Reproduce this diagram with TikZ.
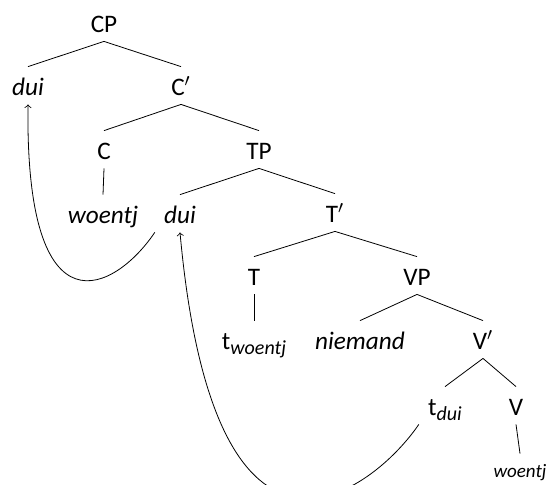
\documentclass[tikz,border=0pt]{standalone}
\usepackage{fontspec}
\setmainfont{Carlito}
\usepackage{tikz}
\newcommand{\sbs}[1]{\raisebox{-2.5pt}{\fontsize{10}{12}\selectfont\itshape #1}}

\begin{document}
\begin{tikzpicture}[x=0.5pt,y=-0.5pt,
    lbl/.style={anchor=base,inner sep=4.5pt,text height=9.5pt,text depth=0pt,font=\fontsize{12.6}{15}\selectfont},
    leaf/.style={anchor=base,inner sep=4.5pt,text height=7pt,text depth=0pt,font=\fontsize{9.5}{11}\selectfont\itshape}]
    \useasboundingbox (0,0) rectangle (549,484);
    \node [lbl] (cp) at (104,32) {CP};
    \node [lbl] (dui) at (28,95) {\textit{dui}};
    \node [lbl] (cbar) at (181,95) {C$'$};
    \node [lbl] (c) at (104,159) {C};
    \node [lbl] (tp) at (259,159) {TP};
    \node [lbl] (woentj) at (103,223) {\textit{woentj}};
    \node [lbl] (duitp) at (180,223) {\textit{dui}};
    \node [lbl] (tbar) at (335,222) {T$'$};
    \node [lbl] (t) at (254,285) {T};
    \node [lbl] (vp) at (417,285) {VP};
    \node [lbl] (twoentj) at (254,349) {t\sbs{woentj}};
    \node [lbl] (niemand) at (360,349) {\textit{niemand}};
    \node [lbl] (vbar) at (483,349) {V$'$};
    \node [lbl] (tdui) at (445,415) {t\sbs{dui}};
    \node [lbl] (v) at (516,415) {V};
    \node [leaf] (woentjv) at (520,477) {woentj};
    % tree
    \draw (cp.south)--(dui.north);
    \draw (cp.south)--(cbar.north);
    \draw (cbar.south)--(c.north);
    \draw (cbar.south)--(tp.north);
    \draw (c.south)--(woentj.north);
    \draw (tp.south)--(duitp.north);
    \draw (tp.south)--(tbar.north);
    \draw (tbar.south)--(t.north);
    \draw (tbar.south)--(vp.north);
    \draw (t.south)--(twoentj.north);
    \draw (vp.south)--(niemand.north);
    \draw (vp.south)--(vbar.north);
    \draw (vbar.south)--(tdui.north);
    \draw (vbar.south)--(v.north);
    \draw (v.south)--(woentjv.north);
    % movement
    \draw [->] (tdui.south west) .. controls +(-45,66) and +(35,384) .. (duitp.south);
    \draw [->] (duitp.south west) .. controls +(-39,58) and +(-3,236) .. (dui.south);
\end{tikzpicture}
\end{document}
